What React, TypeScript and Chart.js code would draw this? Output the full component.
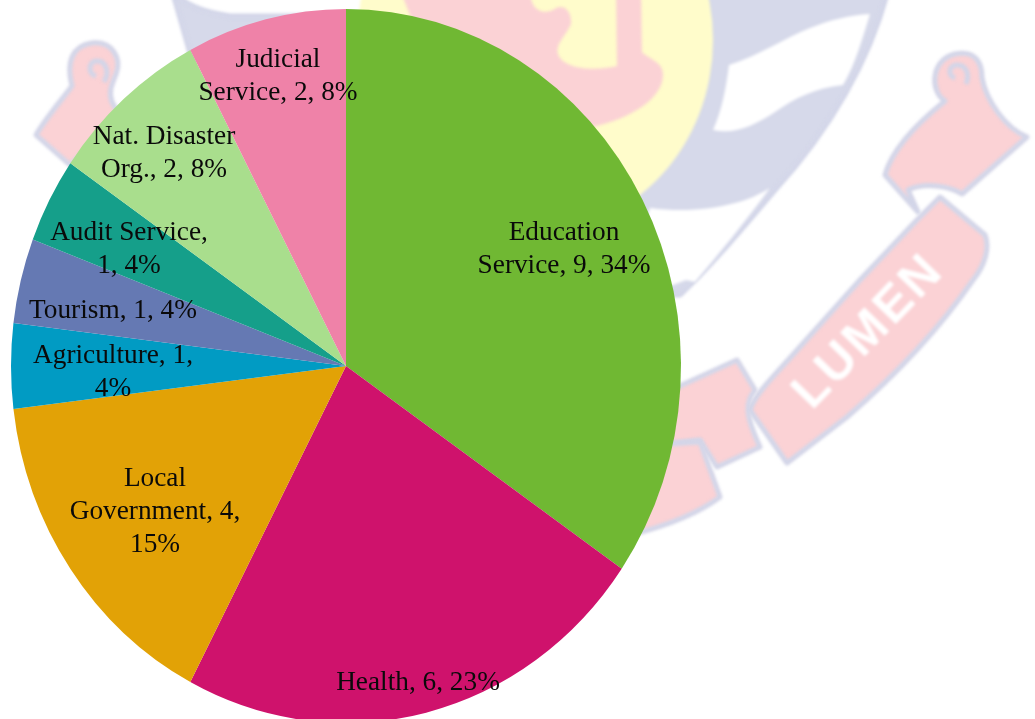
import React, { useEffect, useRef } from "react";
import { Chart, registerables } from "chart.js";

Chart.register(...registerables);

// Employing institutions, counts and the percentages printed beside them.
const sectors = ["Education Service", "Health", "Local Government", "Agriculture", "Tourism", "Audit Service", "Nat. Disaster Org.", "Judicial Service"];
const counts = [9, 6, 4, 1, 1, 1, 2, 2];
const sliceColors = ["#70B833", "#CF126C", "#E2A206", "#019BC3", "#6579B3", "#159F8A", "#A9DE8D", "#EF82A8"];
const labelLines = [
  ["Education", "Service, 9, 34%"],
  ["Health, 6, 23%"],
  ["Local", "Government, 4,", "15%"],
  ["Agriculture, 1,", "4%"],
  ["Tourism, 1, 4%"],
  ["Audit Service,", "1, 4%"],
  ["Nat. Disaster", "Org., 2, 8%"],
  ["Judicial", "Service, 2, 8%"],
];

// Pixel anchor of each label block: horizontal centre and first line's middle.
const labelAnchors = [
  [564, 233], [418, 683], [155, 479], [113, 356], [113, 311], [129, 233], [164, 137], [278, 60],
];
const LINE_STEP = 33;
const Y_STRETCH = 357 / 335;
const CENTER_Y = 366;

// Faded crest behind the pie, as [fill, stroke, path].
const LILAC = "#D6D9EA";
const LILAC_EDGE = "#D2D5E8";
const PINK = "#FBD2D5";
const crestShapes: [string, string | null, string][] = [
  // shield body
  [LILAC, LILAC_EDGE, "M172,-10 L192,60 L350,60 L350,16 L230,16 C205,12 185,6 172,-10 Z"],
  [LILAC, LILAC_EDGE, "M400,-10 L888,-10 C870,60 830,130 775,190 C745,225 715,262 680,295 L600,295 L400,100 Z"],
  ["#FFFFFF", null, "M729,65 C760,55 785,38 810,28 C830,20 850,15 870,14 C862,40 855,65 843,85 C815,88 795,98 775,112 C755,125 735,135 713,130 C722,110 726,88 729,65 Z"],
  ["#FFFFFF", null, "M650,208 C680,212 710,210 735,203 C748,200 760,194 770,188 C745,222 718,255 695,282 L686,280 L660,290 L640,240 Z"],
  // inner medallion
  ["#FFFCCB", null, "M357,40 A178,192 0 1 1 713,40 A178,192 0 1 1 357,40 Z"],
  [PINK, null, "M400,-10 L530,-10 C530,12 545,16 556,8 C565,4 572,12 571,24 C566,36 555,44 558,54 C563,68 590,72 617,66 L616,-10 L641,-10 L642,52 C650,60 664,62 663,76 C662,95 640,115 597,126 L460,140 Z"],
  // left scroll
  [PINK, LILAC_EDGE, "M72,86 C66,62 72,46 92,43 C112,41 122,58 116,74 C112,84 108,92 112,102 L122,120 L70,165 L36,135 C46,118 60,102 72,86 Z"],
  // right scroll
  [PINK, LILAC_EDGE, "M945,101 C930,92 930,60 955,54 C975,50 982,62 982,78 C986,100 1005,128 1027,137 L962,194 C950,186 925,182 908,190 L918,212 L885,175 C892,150 915,125 945,101 Z"],
  // banner
  [PINK, LILAC_EDGE, "M940,197 L985,235 C990,248 985,265 973,280 C935,335 890,380 847,417 L787,463 L750,410 C755,395 770,380 790,358 L860,280 L915,222 Z"],
  [PINK, LILAC_EDGE, "M660,395 L737,360 L755,390 C745,402 745,415 760,447 L717,467 L700,440 L660,445 Z"],
  [PINK, LILAC_EDGE, "M650,445 L700,442 L720,497 C700,512 670,525 630,535 Z"],
  // curls inside the scrolls
  [PINK, LILAC_EDGE, "M955,78 C948,76 948,66 956,65 C966,64 970,74 966,84"],
  [PINK, LILAC_EDGE, "M96,76 C88,74 88,62 96,61 C106,60 110,72 104,82"],
];

const crestBackdrop = {
  id: "crestBackdrop",
  beforeDraw(chart: Chart) {
    const { ctx } = chart;
    ctx.save();
    ctx.fillStyle = "#FFFFFF";
    ctx.fillRect(0, 0, chart.width, chart.height);
    ctx.filter = "blur(1.5px)";
    ctx.lineWidth = 5;
    ctx.lineJoin = "round";
    for (const [fill, edge, d] of crestShapes) {
      const p = new Path2D(d);
      ctx.fillStyle = fill;
      ctx.fill(p);
      if (edge) {
        ctx.strokeStyle = edge;
        ctx.stroke(p);
      }
    }
    // banner lettering
    ctx.translate(869, 332);
    ctx.rotate((-46 * Math.PI) / 180);
    ctx.font = "bold 50px 'Liberation Sans'";
    (ctx as any).letterSpacing = "3px";
    ctx.textAlign = "center";
    ctx.textBaseline = "middle";
    ctx.fillStyle = "#FFFFFF";
    ctx.fillText("LUMEN", 0, 0);
    ctx.restore();
  },
};

// The pie is taller than it is wide, so its drawing is stretched about the centre.
const verticalStretch = {
  id: "verticalStretch",
  beforeDatasetsDraw(chart: Chart) {
    const { ctx } = chart;
    ctx.save();
    ctx.translate(0, CENTER_Y);
    ctx.scale(1, Y_STRETCH);
    ctx.translate(0, -CENTER_Y);
  },
  afterDatasetsDraw(chart: Chart) {
    chart.ctx.restore();
  },
};

const sliceLabels = {
  id: "sliceLabels",
  afterDraw(chart: Chart) {
    const { ctx } = chart;
    ctx.save();
    ctx.font = "27.3px 'Liberation Serif'";
    ctx.fillStyle = "#0A0A0A";
    ctx.textAlign = "center";
    ctx.textBaseline = "middle";
    labelLines.forEach((lines, i) => {
      const [x, y] = labelAnchors[i];
      lines.forEach((line, j) => {
        ctx.fillText(line, x, y + j * LINE_STEP);
      });
    });
    ctx.restore();
  },
};

export default function App() {
  const canvasRef = useRef<HTMLCanvasElement>(null);

  useEffect(() => {
    const chart = new Chart(canvasRef.current!, {
      type: "pie",
      data: {
        labels: sectors,
        datasets: [{ data: counts, backgroundColor: sliceColors, borderWidth: 0, clip: false } as any],
      },
      options: {
        responsive: false,
        animation: false,
        layout: { padding: { left: 11, right: 354, top: 31, bottom: 18 } },
        plugins: { legend: { display: false }, tooltip: { enabled: false } },
      },
      plugins: [crestBackdrop, verticalStretch, sliceLabels],
    });
    return () => chart.destroy();
  }, []);

  return (
    <div style={{ position: "absolute", left: 0, top: 0, width: 1035, height: 719, overflow: "hidden" }}>
      <canvas ref={canvasRef} width={1035} height={719} style={{ display: "block" }} />
    </div>
  );
}
